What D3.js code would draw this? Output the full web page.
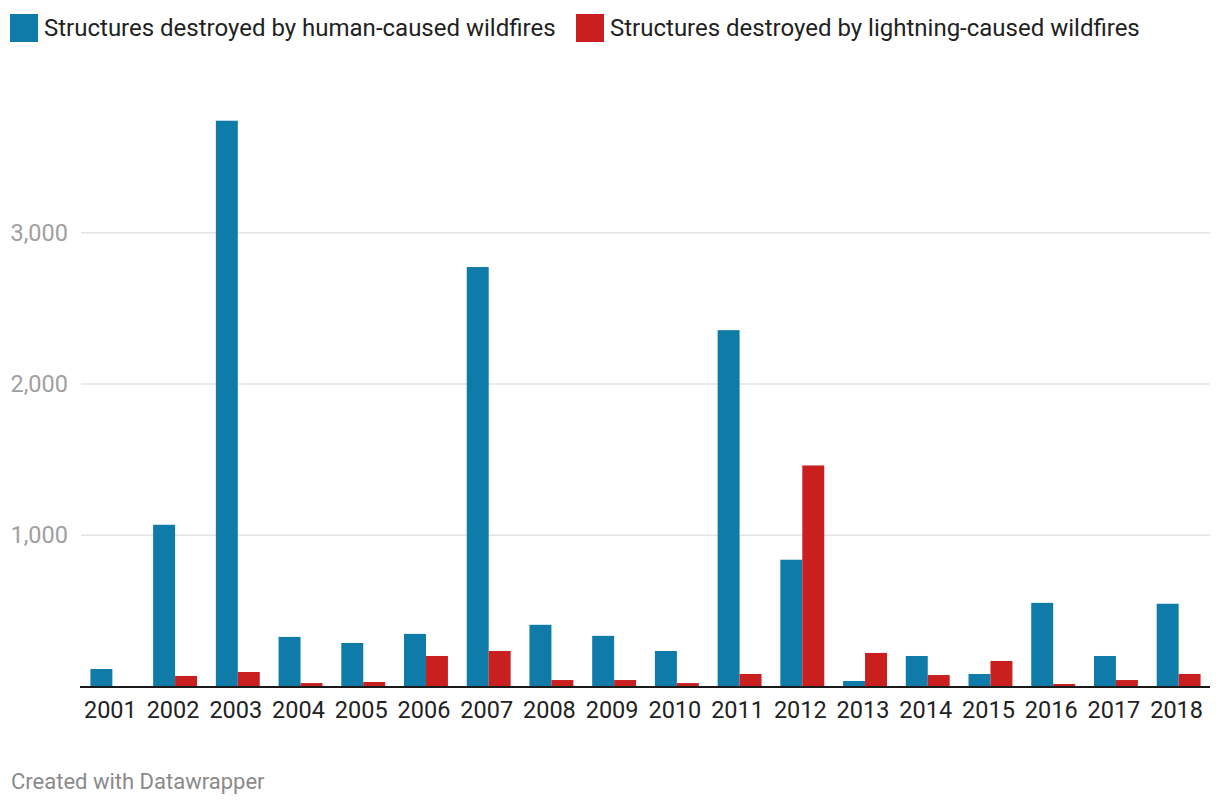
<!DOCTYPE html>
<html>
<head>
<meta charset="utf-8">
<script src="https://cdn.jsdelivr.net/npm/d3@7"></script>
<style>
  html, body { margin: 0; padding: 0; background: #fff; }
  svg { display: block; font-family: Roboto, "Noto Sans", sans-serif; }
</style>
</head>
<body>
<svg id="chart" width="1220" height="808"></svg>
<script>
const years = ["2001","2002","2003","2004","2005","2006","2007","2008","2009","2010","2011","2012","2013","2014","2015","2016","2017","2018"];
const humanCaused = [117, 1070, 3740, 329, 289, 349, 2773, 409, 336, 236, 2356, 839, 38, 203, 84, 554, 203, 548];
const lightningCaused = [0, 71, 97, 24, 31, 203, 236, 44, 44, 24, 84, 1462, 223, 77, 170, 18, 44, 84];
const seriesNames = ["Structures destroyed by human-caused wildfires", "Structures destroyed by lightning-caused wildfires"];
const seriesColors = ["#0e7ba8", "#c91f1f"];
const yTicks = [1000, 2000, 3000];

const svg = d3.select("#chart");
const left = 81, right = 1210;

const x = d3.scaleBand().domain(years).range([left, right]).paddingInner(0.3).paddingOuter(0.15);
const keys = ["human", "lightning"];
const xs = d3.scaleBand().domain(keys).range([0, x.bandwidth()]);
const y = d3.scaleLinear().domain([0, 3000]).range([686.7, 232.7]);

// gridlines
svg.append("g").selectAll("line").data(yTicks).join("line")
  .attr("x1", left).attr("x2", right)
  .attr("y1", d => y(d)).attr("y2", d => y(d))
  .attr("stroke", "#e3e3e3").attr("stroke-width", 1.5);

// y labels
svg.append("g").selectAll("text").data(yTicks).join("text")
  .attr("x", 68).attr("y", d => y(d))
  .attr("text-anchor", "end").attr("dominant-baseline", "central")
  .attr("fill", "#a0a0a0").attr("font-size", 23.5)
  .text(d => d3.format(",")(d));

// bars
const rows = years.map((yr, i) => ({year: yr, human: humanCaused[i], lightning: lightningCaused[i]}));
const groups = svg.append("g").selectAll("g").data(rows).join("g")
  .attr("transform", d => `translate(${x(d.year)},0)`);
groups.selectAll("rect").data(d => keys.map((k, j) => ({k, v: d[k], j}))).join("rect")
  .attr("x", d => xs(d.k)).attr("width", xs.bandwidth())
  .attr("y", d => y(d.v)).attr("height", d => y(0) - y(d.v))
  .attr("fill", d => seriesColors[d.j]);

// baseline
svg.append("line").attr("x1", left - 1).attr("x2", right)
  .attr("y1", 687).attr("y2", 687).attr("stroke", "#1a1a1a").attr("stroke-width", 2);

// x labels
svg.append("g").selectAll("text").data(years).join("text")
  .attr("x", d => x(d) + x.bandwidth() / 2 - 2).attr("y", 718)
  .attr("text-anchor", "middle").attr("fill", "#222").attr("font-size", 23.5)
  .text(d => d);

// legend
const legendX = [10, 576];
const lg = svg.append("g").selectAll("g").data(seriesNames).join("g")
  .attr("transform", (d, i) => `translate(${legendX[i]},14)`);
lg.append("rect").attr("width", 28).attr("height", 28).attr("fill", (d, i) => seriesColors[i]);
lg.append("text").attr("x", 34).attr("y", 14).attr("dominant-baseline", "central")
  .attr("font-size", 24).attr("fill", "#222").text(d => d);

// footer
svg.append("text").attr("x", 11).attr("y", 789).attr("font-size", 22).attr("fill", "#8a8a8a")
  .text("Created with Datawrapper");
</script>
</body>
</html>
